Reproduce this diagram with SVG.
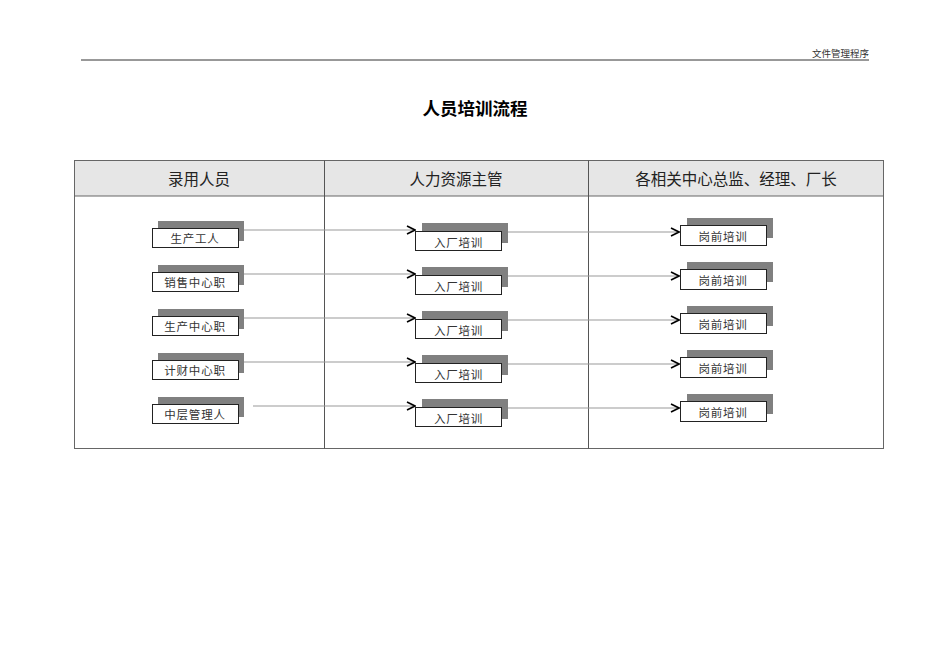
<svg xmlns="http://www.w3.org/2000/svg" width="950" height="672" viewBox="0 0 950 672">
<defs>
<style>
.hdr{font-family:"Liberation Sans","Noto Sans CJK SC",sans-serif;font-size:15.5px;fill:#222;text-anchor:middle}
.lbl{font-family:"Liberation Serif","Noto Sans CJK SC",serif;font-size:11.5px;fill:#333;text-anchor:middle;letter-spacing:0.8px}
.box{fill:#fff;stroke:#222;stroke-width:1}
.shd{fill:#808080}
.ln{stroke:#999;stroke-width:1;fill:none}
.grid{stroke:#666;stroke-width:1;fill:none}
</style>
<marker id="arr" viewBox="0 0 10 10" refX="9" refY="5" markerWidth="10" markerHeight="10" markerUnits="userSpaceOnUse" orient="auto">
<path d="M1,1 L9,5 L1,9" fill="none" stroke="#000" stroke-width="1.6"/>
</marker>
</defs>
<rect width="950" height="672" fill="#fff"/>
<text x="869" y="57" font-family="Liberation Serif,'Noto Sans CJK SC',serif" font-size="9.5" fill="#333" text-anchor="end">文件管理程序</text>
<line x1="81" y1="60" x2="869" y2="60" stroke="#333" stroke-width="1"/>
<text x="475" y="115" font-family="'Liberation Sans','Noto Sans CJK SC',sans-serif" font-size="17.5" font-weight="bold" fill="#000" text-anchor="middle">人员培训流程</text>
<g id="table">
<rect x="74.5" y="160.5" width="809" height="35.5" fill="#e6e6e6"/>
<rect x="74.5" y="160.5" width="809" height="288" class="grid"/>
<line x1="74.5" y1="196" x2="883.5" y2="196" class="grid"/>
<line x1="324.5" y1="160.5" x2="324.5" y2="448.5" stroke="#555"/>
<line x1="588.5" y1="160.5" x2="588.5" y2="448.5" stroke="#555"/>
<text x="199" y="185" class="hdr">录用人员</text>
<text x="456" y="185" class="hdr">人力资源主管</text>
<text x="736" y="185" class="hdr">各相关中心总监、经理、厂长</text>
</g>
<g id="connectors">
<line x1="244" y1="230" x2="415" y2="230" class="ln" marker-end="url(#arr)"/>
<line x1="244" y1="274" x2="415" y2="274" class="ln" marker-end="url(#arr)"/>
<line x1="244" y1="318" x2="415" y2="318" class="ln" marker-end="url(#arr)"/>
<line x1="244" y1="362" x2="415" y2="362" class="ln" marker-end="url(#arr)"/>
<line x1="253" y1="406" x2="415" y2="406" class="ln" marker-end="url(#arr)"/>
<line x1="508" y1="232" x2="679" y2="232" class="ln" marker-end="url(#arr)"/>
<line x1="508" y1="276" x2="679" y2="276" class="ln" marker-end="url(#arr)"/>
<line x1="508" y1="320" x2="679" y2="320" class="ln" marker-end="url(#arr)"/>
<line x1="508" y1="364" x2="679" y2="364" class="ln" marker-end="url(#arr)"/>
<line x1="508" y1="408" x2="679" y2="408" class="ln" marker-end="url(#arr)"/>
</g>
<g id="n_l1"><rect x="158" y="221" width="86" height="20" class="shd"/><rect x="152.5" y="228.5" width="86" height="19" class="box"/><text x="195" y="243" class="lbl">生产工人</text></g>
<g id="n_l2"><rect x="158" y="265" width="86" height="20" class="shd"/><rect x="152.5" y="272.5" width="86" height="19" class="box"/><text x="195" y="287" class="lbl">销售中心职</text></g>
<g id="n_l3"><rect x="158" y="309" width="86" height="20" class="shd"/><rect x="152.5" y="316.5" width="86" height="19" class="box"/><text x="195" y="331" class="lbl">生产中心职</text></g>
<g id="n_l4"><rect x="158" y="353" width="86" height="20" class="shd"/><rect x="152.5" y="360.5" width="86" height="19" class="box"/><text x="195" y="375" class="lbl">计财中心职</text></g>
<g id="n_l5"><rect x="158" y="397" width="86" height="20" class="shd"/><rect x="152.5" y="404.5" width="86" height="19" class="box"/><text x="195" y="419" class="lbl">中层管理人</text></g>
<g id="n_m1"><rect x="422" y="223" width="86" height="20" class="shd"/><rect x="415.5" y="231.5" width="86" height="19" class="box"/><text x="458.5" y="247" class="lbl">入厂培训</text></g>
<g id="n_m2"><rect x="422" y="267" width="86" height="20" class="shd"/><rect x="415.5" y="275.5" width="86" height="19" class="box"/><text x="458.5" y="291" class="lbl">入厂培训</text></g>
<g id="n_m3"><rect x="422" y="311" width="86" height="20" class="shd"/><rect x="415.5" y="319.5" width="86" height="19" class="box"/><text x="458.5" y="335" class="lbl">入厂培训</text></g>
<g id="n_m4"><rect x="422" y="355" width="86" height="20" class="shd"/><rect x="415.5" y="363.5" width="86" height="19" class="box"/><text x="458.5" y="379" class="lbl">入厂培训</text></g>
<g id="n_m5"><rect x="422" y="399" width="86" height="20" class="shd"/><rect x="415.5" y="407.5" width="86" height="19" class="box"/><text x="458.5" y="423" class="lbl">入厂培训</text></g>
<g id="n_r1"><rect x="687" y="218" width="86" height="20" class="shd"/><rect x="680.5" y="225.5" width="86" height="20" class="box"/><text x="723" y="241" class="lbl">岗前培训</text></g>
<g id="n_r2"><rect x="687" y="262" width="86" height="20" class="shd"/><rect x="680.5" y="269.5" width="86" height="20" class="box"/><text x="723" y="285" class="lbl">岗前培训</text></g>
<g id="n_r3"><rect x="687" y="306" width="86" height="20" class="shd"/><rect x="680.5" y="313.5" width="86" height="20" class="box"/><text x="723" y="329" class="lbl">岗前培训</text></g>
<g id="n_r4"><rect x="687" y="350" width="86" height="20" class="shd"/><rect x="680.5" y="357.5" width="86" height="20" class="box"/><text x="723" y="373" class="lbl">岗前培训</text></g>
<g id="n_r5"><rect x="687" y="394" width="86" height="20" class="shd"/><rect x="680.5" y="401.5" width="86" height="20" class="box"/><text x="723" y="417" class="lbl">岗前培训</text></g>
</svg>
